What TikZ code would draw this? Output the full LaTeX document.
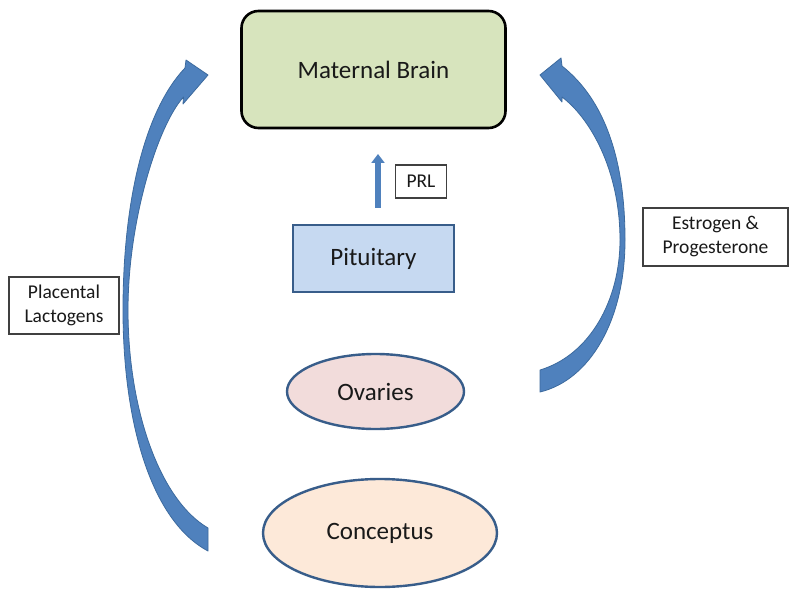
\documentclass[tikz,border=0pt]{standalone}
\usepackage{fontspec}
\setmainfont{Carlito}
\usetikzlibrary{arrows.meta,shapes.geometric}
\definecolor{arrowblue}{HTML}{4F81BD}
\definecolor{arrowedge}{HTML}{3C6A9E}
\definecolor{brainfill}{HTML}{D7E4BD}
\definecolor{pitfill}{HTML}{C6D9F1}
\definecolor{ovfill}{HTML}{F2DCDB}
\definecolor{confill}{HTML}{FDE9D9}
\definecolor{shapeedge}{HTML}{385D8A}
\definecolor{labeledge}{HTML}{404040}
\begin{document}
\begin{tikzpicture}[x=1pt,y=-1pt,
  bigtext/.style={font=\fontsize{25}{30}\selectfont, text=black!90},
  smalltext/.style={font=\fontsize{19.5}{24}\selectfont, align=center, text=black!90},
  labelbox/.style={smalltext, draw=labeledge, line width=1.2pt, fill=white, inner sep=0pt},
  blockarrow/.style={fill=arrowblue, draw=arrowedge, line width=0.8pt, line join=round},
  ovalbox/.style={bigtext, ellipse, draw=shapeedge, line width=2.4pt, inner sep=0pt},
]
\useasboundingbox (0,0) rectangle (800,596);
\fill[white] (0,0) rectangle (800,596);

% main nodes
\node[bigtext, draw=black, line width=2.6pt, fill=brainfill, rounded corners=17pt,
      minimum width=264pt, minimum height=117pt] (brain) at (373.5,69.5) {Maternal Brain};
\node[bigtext, draw=shapeedge, line width=2.4pt, fill=pitfill,
      minimum width=161pt, minimum height=67pt] (pit) at (373.5,258.5) {Pituitary};
\node[ovalbox, fill=ovfill, minimum width=177pt, minimum height=75pt] (ov) at (375.5,391.5) {Ovaries};
\node[ovalbox, fill=confill, minimum width=234pt, minimum height=108pt] (con) at (380,533) {Conceptus};

% label boxes
\node[labelbox, minimum width=51pt, minimum height=33pt] (prl) at (421,181.5) {PRL};
\node[labelbox, minimum width=110pt, minimum height=57pt] (plac) at (64,305.5) {Placental\\Lactogens};
\node[labelbox, minimum width=145pt, minimum height=58pt] (estr) at (715.5,237) {Estrogen \&\\Progesterone};

% PRL arrow
\coordinate (prlS) at (378,208);
\coordinate (prlE) at (378,154);
\draw[line width=6.5pt, arrowblue, -{Triangle[width=13pt,length=9pt]}] (prlS) -- (prlE);

% left curved block arrow (Placental Lactogens)
\draw[blockarrow] (208,551) .. controls (150,520) and (123,420) .. (123,310)
   .. controls (123,200) and (145,110) .. (185,68) -- (186,60) -- (208,75) -- (183,104) -- (183.5,97)
   .. controls (158,125) and (128,220) .. (128,310)
   .. controls (128,410) and (160,500) .. (208,528) -- cycle;

% right curved block arrow (Estrogen & Progesterone)
\draw[blockarrow] (540,392) .. controls (590,380) and (625,320) .. (625,240)
   .. controls (625,160) and (605,100) .. (562,66) -- (561,58) -- (540,75) -- (562,102) -- (562,97)
   .. controls (590,118) and (620,170) .. (620,240)
   .. controls (620,300) and (590,355) .. (540,370) -- cycle;
\end{tikzpicture}
\end{document}
